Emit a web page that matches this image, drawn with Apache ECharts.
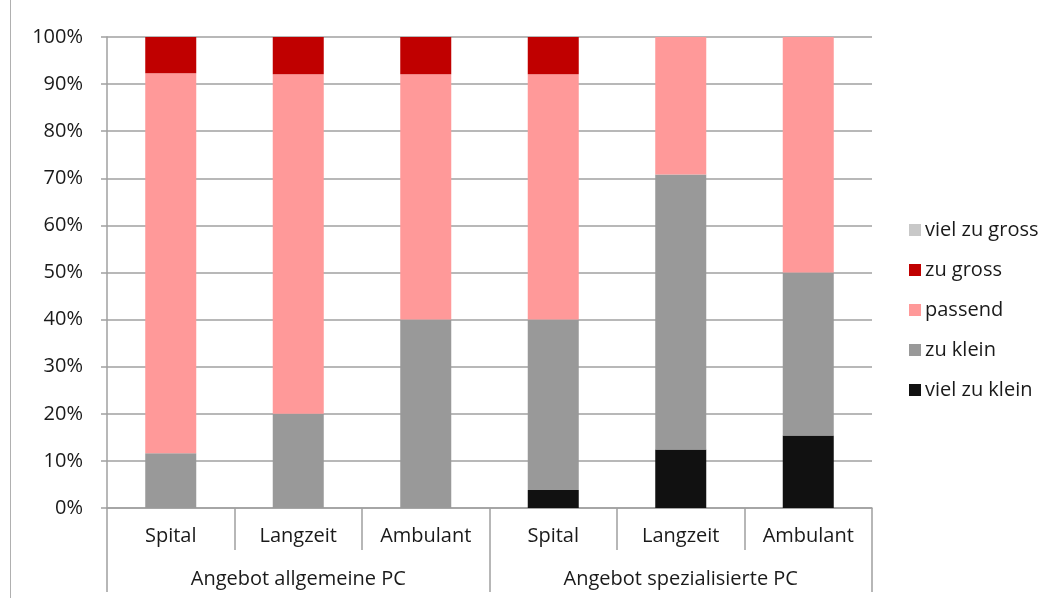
<!DOCTYPE html>
<html>
<head>
<meta charset="utf-8">
<script src="https://cdn.jsdelivr.net/npm/echarts@6/dist/echarts.min.js"></script>
<style>
  html, body { margin: 0; padding: 0; background: #fff; }
  #chart { width: 1057px; height: 598px; }
</style>
</head>
<body>
<div id="chart"></div>
<script>
const categories = ['Spital', 'Langzeit', 'Ambulant', 'Spital', 'Langzeit', 'Ambulant']
const groups = ['Angebot allgemeine PC', 'Angebot spezialisierte PC']
const yTicks = [0, 10, 20, 30, 40, 50, 60, 70, 80, 90, 100]

// shares in %, bottom of the stack first
const vielZuKlein = [0, 0, 0, 3.8, 12.4, 15.4]
const zuKlein = [11.6, 20, 40, 36.2, 58.4, 34.6]
const passend = [80.7, 72.1, 52.1, 52.1, 29.2, 50.0]
const zuGross = [7.7, 7.9, 7.9, 7.9, 0, 0]
const vielZuGross = [0, 0, 0, 0, 0, 0]

const font = "'Open Sans', 'Noto Sans', sans-serif"
const textColor = '#1a1a1a'
const lineColor = '#a0a0a0'
const fontSize = 20

const chart = echarts.init(document.getElementById('chart'), null, { renderer: 'canvas' })

function bar(name, data, color) {
  return {
    name,
    type: 'bar',
    stack: 'total',
    barWidth: '40%',
    data,
    itemStyle: { color },
    emphasis: { disabled: true },
  }
}

chart.setOption({
  animation: false,
  backgroundColor: '#fff',
  textStyle: { fontFamily: font },
  graphic: [
    {
      type: 'line',
      shape: { x1: 10.5, y1: 0, x2: 10.5, y2: 598 },
      style: { stroke: '#b0b0b0', lineWidth: 1 },
    },
  ],
  legend: {
    orient: 'vertical',
    left: 909,
    top: 220,
    padding: 0,
    itemWidth: 12,
    itemHeight: 12,
    itemGap: 20,
    icon: 'rect',
    textStyle: { fontFamily: font, fontSize: fontSize, color: textColor, padding: [0, 0, 0, -1] },
    data: ['viel zu gross', 'zu gross', 'passend', 'zu klein', 'viel zu klein'],
  },
  grid: { left: 107, right: 185, top: 37, bottom: 90, containLabel: false },
  xAxis: [
    {
      type: 'category',
      data: categories,
      position: 'bottom',
      axisLine: { lineStyle: { color: lineColor, width: 1.5 } },
      axisTick: { show: true, interval: 0, length: 42, lineStyle: { color: lineColor, width: 1.5 } },
      axisLabel: { fontFamily: font, fontSize: fontSize, color: textColor, margin: 18 },
    },
    {
      type: 'category',
      data: groups,
      position: 'bottom',
      axisLine: { show: false },
      axisTick: { show: true, interval: 0, length: 84, lineStyle: { color: lineColor, width: 1.5 } },
      axisLabel: { fontFamily: font, fontSize: fontSize, color: textColor, margin: 61 },
    },
  ],
  yAxis: {
    type: 'value',
    min: 0,
    max: 100,
    interval: 10,
    axisLine: { show: true, lineStyle: { color: lineColor, width: 1.5 } },
    axisTick: { show: true, length: 6, lineStyle: { color: lineColor, width: 1.5 } },
    splitLine: { lineStyle: { color: lineColor, width: 1.5 } },
    axisLabel: {
      fontFamily: font,
      fontSize: fontSize,
      color: textColor,
      margin: 24,
      formatter: (v) => (yTicks.includes(v) ? v + '%' : ''),
    },
  },
  series: [
    bar('viel zu klein', vielZuKlein, '#111111'),
    bar('zu klein', zuKlein, '#999999'),
    bar('passend', passend, '#ff9999'),
    bar('zu gross', zuGross, '#c00000'),
    bar('viel zu gross', vielZuGross, '#c8c8c8'),
  ],
})
</script>
</body>
</html>
